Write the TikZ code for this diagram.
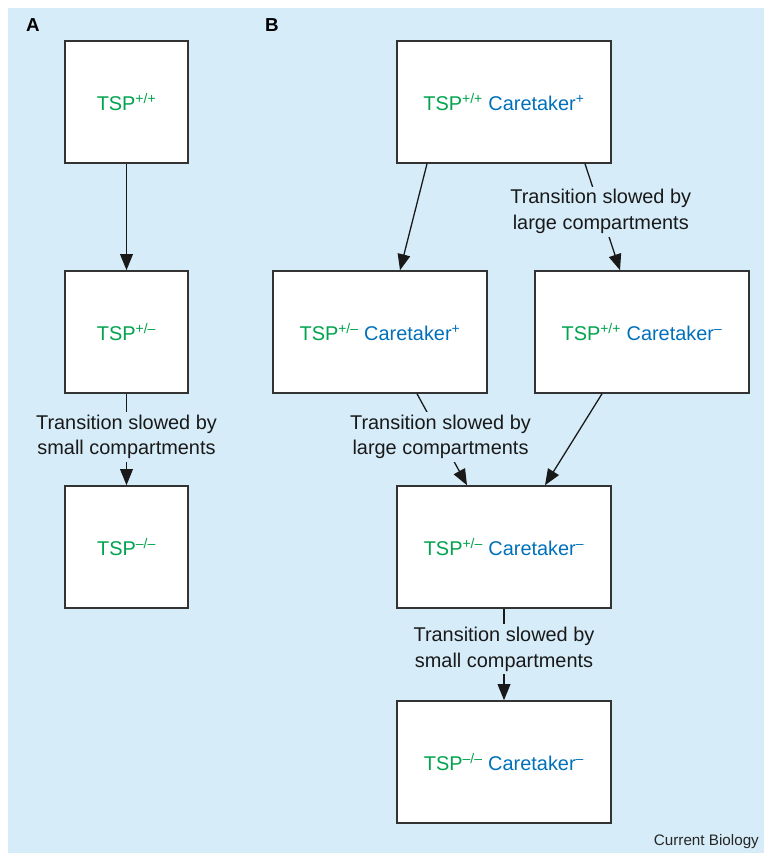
\documentclass[tikz,border=0pt]{standalone}
\usepackage{fontspec}
\setmainfont{Liberation Sans}
\usepackage{xcolor}
\usetikzlibrary{arrows.meta}
\definecolor{panelbg}{RGB}{214,236,249}
\definecolor{tspgreen}{RGB}{0,163,78}
\definecolor{ctkblue}{RGB}{0,112,187}

\begin{document}
\begin{tikzpicture}[
  x=0.03cm, y=-0.03cm,
  box/.style={draw=black!80, line width=1.3pt, fill=white, minimum width=3.69cm,
              minimum height=3.66cm, inner sep=0pt, font=\fontsize{17}{20}\selectfont},
  widebox/.style={box, minimum width=6.42cm},
  arrow/.style={-{Triangle[length=4.8mm, width=3.8mm]}, line width=1.1pt, color=black!90},
  trans/.style={fill=panelbg, inner sep=2.5pt, align=center,
                font=\fontsize{17}{22}\selectfont},
  panel/.style={font=\fontsize{16}{19}\selectfont\bfseries}
]
  \useasboundingbox (0,0) rectangle (764,853);
  \fill[panelbg] (8,8) rectangle (764,853);

  \node[panel] (la) at (33,25)  {A};
  \node[panel] (lb) at (272,25) {B};

  % panel A
  \node[box] (a1) at (126.5,102) {\textcolor{tspgreen}{TSP\textsuperscript{+/+}}};
  \node[box] (a2) at (126.5,332) {\textcolor{tspgreen}{TSP\textsuperscript{+/–}}};
  \node[box] (a3) at (126.5,547) {\textcolor{tspgreen}{TSP\textsuperscript{–/–}}};

  \draw[arrow] (a1) -- (a2);
  \draw[arrow] (a2) -- node[trans, pos=0.47]{Transition slowed by\\small compartments} (a3);

  % panel B
  \node[widebox] (btop) at (504,102)
    {\textcolor{tspgreen}{TSP\textsuperscript{+/+}} \textcolor{ctkblue}{Caretaker\textsuperscript{+}}};
  \node[widebox] (bleft) at (380,332)
    {\textcolor{tspgreen}{TSP\textsuperscript{+/–}} \textcolor{ctkblue}{Caretaker\textsuperscript{+}}};
  \node[widebox] (bright) at (642,332)
    {\textcolor{tspgreen}{TSP\textsuperscript{+/+}} \textcolor{ctkblue}{Caretaker\textsuperscript{–}}};
  \node[widebox] (bmid) at (504,547)
    {\textcolor{tspgreen}{TSP\textsuperscript{+/–}} \textcolor{ctkblue}{Caretaker\textsuperscript{–}}};
  \node[widebox] (bbot) at (504,762)
    {\textcolor{tspgreen}{TSP\textsuperscript{–/–}} \textcolor{ctkblue}{Caretaker\textsuperscript{–}}};

  \draw[arrow] ([xshift=-2.31cm]btop.south) -- ([xshift=0.6cm]bleft.north);
  \draw[arrow] ([xshift=2.43cm]btop.south) --
    node[trans, pos=0.45]{Transition slowed by\\large compartments} ([xshift=-0.66cm]bright.north);
  \draw[arrow] ([xshift=1.11cm]bleft.south) --
    node[trans, pos=0.47]{Transition slowed by\\large compartments} ([xshift=-1.11cm]bmid.north);
  \draw[arrow] ([xshift=-1.2cm]bright.south) -- ([xshift=1.23cm]bmid.north);
  \draw[arrow] (bmid) -- node[trans, pos=0.44]{Transition slowed by\\small compartments} (bbot);

  \node[anchor=east, font=\fontsize{13}{15}\selectfont, text=black!85] (journal) at (763,842) {Current Biology};
\end{tikzpicture}
\end{document}
